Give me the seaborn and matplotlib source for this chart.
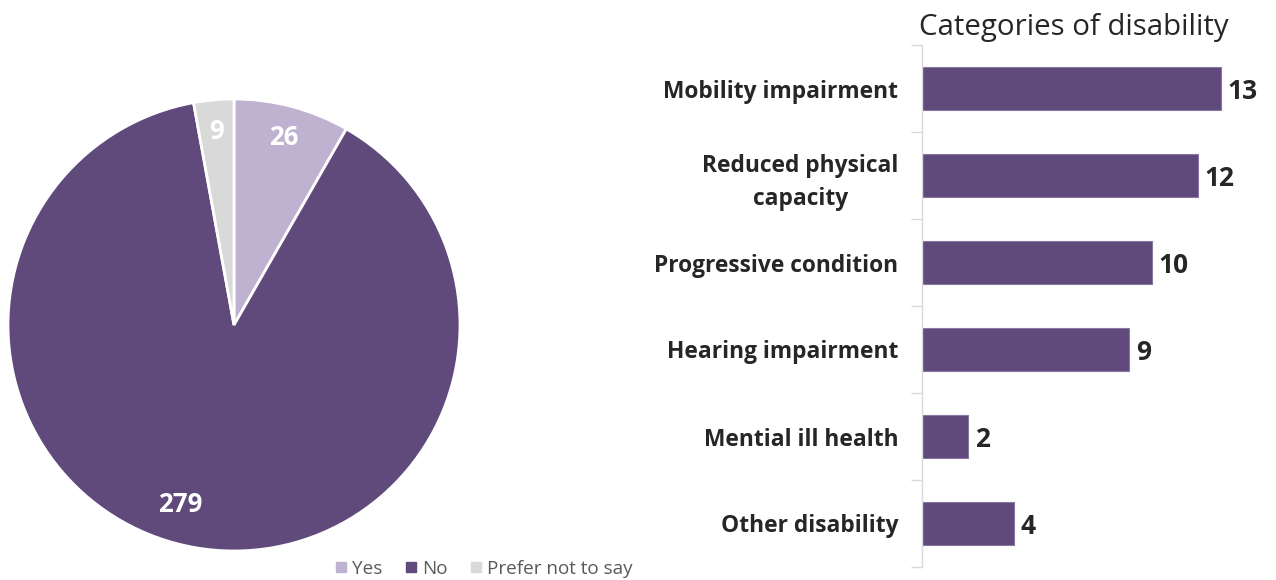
import matplotlib
matplotlib.use("Agg")
import numpy as np
import matplotlib.pyplot as plt
from matplotlib.lines import Line2D
import seaborn as sns
import pandas as pd

# Disability status responses
status_labels = ["Yes", "No", "Prefer not to say"]
status_counts = [26, 279, 9]

# Categories of disability among "Yes" responses
categories = ["Mobility impairment", "Reduced physical\ncapacity", "Progressive condition",
              "Hearing impairment", "Mential ill health", "Other disability"]
category_counts = [13, 12, 10, 9, 2, 4]

DARK = "#604a7b"
LIGHT = "#bfb1d0"
GREY = "#d9d9d9"
TEXT = "#262626"

sns.set_theme(style="white")
plt.rcParams["font.family"] = ["Open Sans", "DejaVu Sans"]

W, H = 1276, 580
fig = plt.figure(figsize=(W / 100, H / 100), dpi=100)

# ---- pie ----
cx, cy, r = 234, 325, 226
pax = fig.add_axes([(cx - r) / W, (H - cy - r) / H, 2 * r / W, 2 * r / H])
wedges, _, autotexts = pax.pie(
    status_counts, colors=[LIGHT, DARK, GREY], startangle=90, counterclock=False,
    autopct=lambda p: f"{round(p * sum(status_counts) / 100):d}", pctdistance=0.86,
    wedgeprops=dict(edgecolor="white", linewidth=2),
    textprops=dict(color="white", fontsize=18.5, fontweight="bold"))
# the large slice keeps its label a little further in and to the left
ang = np.deg2rad(253.5)
autotexts[1].set_position((0.83 * np.cos(ang), 0.83 * np.sin(ang)))
pax.set_xlim(-1, 1)
pax.set_ylim(-1, 1)
pax.set_aspect("equal")
for w in wedges:
    w.set_clip_on(False)

handles = [Line2D([], [], marker="s", linestyle="none", markersize=7.5,
                  markerfacecolor=c, markeredgecolor=c) for c in [LIGHT, DARK, GREY]]
fig.legend(handles, status_labels, loc="center", bbox_to_anchor=(483 / W, 1 - 569 / H),
           ncol=3, frameon=False, fontsize=13.6, handletextpad=0.2, columnspacing=1.1,
           handlelength=0.8, labelcolor="#595959")

# ---- bars ----
df = pd.DataFrame({"category": categories, "count": category_counts})
left, right, top, bottom = 922, 1250, 45, 567
bax = fig.add_axes([left / W, (H - bottom) / H, (right - left) / W, (bottom - top) / H])
sns.barplot(data=df, y="category", x="count", orient="h", color=DARK, width=0.5,
            saturation=1, edgecolor="#8a77a0", linewidth=0.8, ax=bax)
bax.set_xlim(0, 13 * (right - left) / 299)
bax.set_ylim(len(categories) - 0.5, -0.5)
bax.set_xlabel("")
bax.set_ylabel("")
bax.set_xticks([])
for s in ["top", "right", "bottom"]:
    bax.spines[s].set_visible(False)
bax.spines["left"].set_color(GREY)
bax.spines["left"].set_linewidth(1)
bax.set_yticks([i + 0.5 for i in range(-1, len(categories))], minor=True)
bax.tick_params(axis="y", which="minor", length=8, color=GREY, width=1, left=True)
bax.tick_params(axis="y", which="major", length=0, pad=17)
bax.set_yticks(range(len(categories)))
bax.set_yticklabels(categories, fontsize=16.4, fontweight="bold", color=TEXT, ha="right",
                    multialignment="center", linespacing=1.45)
for i, v in enumerate(category_counts):
    bax.text(v + 0.3, i + 0.04, str(v), va="center", ha="left", fontsize=19,
             fontweight="bold", color=TEXT)
fig.text(919 / W, 1 - 28 / H, "Categories of disability", fontsize=21.2,
         color=TEXT, va="center", ha="left")

fig.savefig("out.png", dpi=100)
